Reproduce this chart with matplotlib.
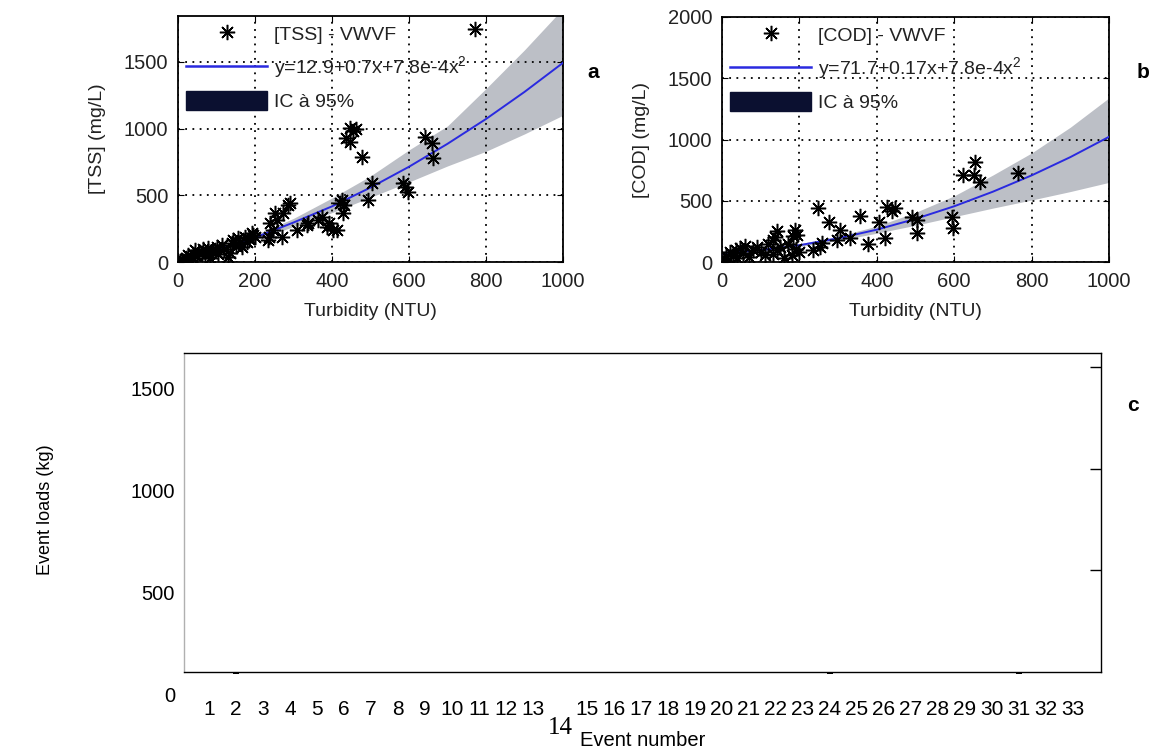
import numpy as np
import matplotlib
matplotlib.use('Agg')
import matplotlib.pyplot as plt
from matplotlib.lines import Line2D
from matplotlib.patches import Patch

plt.rcParams['font.family'] = ['Liberation Sans', 'DejaVu Sans']
plt.rcParams['mathtext.default'] = 'regular'

# ---- panel a : [TSS] vs turbidity
tss_turb = [5, 10, 15, 20, 26, 31, 35, 40, 44, 50, 55, 62, 65, 70, 78, 83, 90, 96, 100, 105,
            114, 120, 130, 135, 140, 143, 150, 156, 160, 166, 175, 179, 185, 192, 195, 200,
            234, 236, 239, 247, 252, 257, 270, 273, 286, 291, 309, 335, 338, 364, 374, 387,
            392, 403, 413, 421, 426, 429, 431, 436, 447, 455, 462, 448, 477, 494, 503, 585,
            590, 598, 642, 659, 662, 771]
tss_conc = [10, 15, 5, 30, 52, 15, 40, 60, 90, 45, 70, 68, 95, 50, 105, 30, 80, 90, 110, 60,
            128, 100, 38, 68, 142, 165, 120, 180, 150, 113, 190, 150, 170, 217, 200, 190,
            165, 187, 292, 240, 367, 315, 187, 367, 427, 442, 240, 278, 292, 315, 337, 263,
            292, 240, 240, 442, 465, 367, 427, 930, 1005, 985, 1000, 900, 790, 465, 590, 592,
            560, 527, 940, 890, 778, 1750]
turb_grid = [0, 100, 200, 300, 400, 500, 600, 700, 800, 900, 1000]
tss_fit = [13, 91, 183, 296, 417, 558, 714, 886, 1072, 1275, 1493]
tss_low = [3, 80, 165, 265, 370, 485, 600, 720, 830, 960, 1100]
tss_up = [23, 102, 201, 327, 480, 645, 840, 1020, 1300, 1590, 1900]

# ---- panel b : [COD] vs turbidity
cod_turb = [5, 10, 15, 20, 29, 35, 40, 47, 55, 60, 70, 80, 90, 100, 110, 120, 133, 133, 137,
            141, 142, 150, 160, 170, 180, 184, 189, 192, 194, 200, 236, 249, 253, 258, 277,
            296, 305, 331, 357, 376, 406, 421, 426, 440, 447, 490, 503, 503, 594, 598, 624,
            650, 654, 667, 766]
cod_conc = [20, 50, 10, 80, 57, 100, 30, 112, 70, 130, 40, 100, 125, 80, 60, 150, 64, 180, 207,
            250, 98, 120, 30, 150, 57, 216, 261, 110, 220, 80, 98, 438, 125, 152, 329,
            180, 261, 193, 377, 145, 329, 193, 451, 420, 438, 370, 343, 234, 370, 275, 710,
            710, 819, 656, 724]
cod_fit = [72, 97, 137, 193, 264, 352, 455, 574, 707, 856, 1022]
cod_low = [55, 85, 125, 175, 235, 300, 370, 440, 506, 575, 650]
cod_up = [89, 109, 149, 211, 293, 405, 540, 710, 890, 1100, 1340]

# ---- panel c : event loads
events = list(range(1, 34))
event_loads = [0, -10, 0, 0, 0, 0, 0, 0, 0, 0, 0, 0, 0, 0, 0, 0, 0, 0, 0, 0, 0, 0, 0,
               -10, 0, 0, 0, 0, 0, 0, -10, 0, 0]

W, H = 1151, 749
fig = plt.figure(figsize=(W / 100, H / 100), dpi=100)

blue = '#2a2ae0'
band = '#bcbfc6'
navy = '#0b1030'
txt = '#222222'
star = (8, 2, 0)


def scatter_panel(rect, turb, conc, fit, low, up, ymax, yticks, name, eq, ylab, lab_x):
    ax = fig.add_axes(rect)
    ax.fill_between(turb_grid, low, up, color=band, lw=0, zorder=1)
    ax.plot(turb_grid, fit, color=blue, lw=1.4, zorder=3)
    ax.plot(turb, conc, ls='none', marker=star, ms=11, mew=1.1, color='k', zorder=4)
    ax.set_xlim(0, 1000)
    ax.set_ylim(0, ymax)
    ax.set_xticks([0, 200, 400, 600, 800, 1000])
    ax.set_yticks(yticks)
    ax.grid(True, color='k', linestyle=(0, (1, 3)), linewidth=1.3)
    ax.tick_params(direction='in', top=True, right=True, length=4, labelsize=14.5,
                   labelcolor=txt, pad=7)
    for s in ax.spines.values():
        s.set_linewidth(1.3)
    handles = [Line2D([], [], ls='none', marker=star, ms=11, mew=1.1, color='k'),
               Line2D([], [], color=blue, lw=1.8),
               Patch(facecolor=navy, edgecolor=navy)]
    ax.legend(handles, [name, eq, 'IC à 95%'], loc='upper left', frameon=False,
              fontsize=14, labelcolor=txt, handlelength=4.2, handleheight=1.13,
              handletextpad=0.35, labelspacing=0.55, borderaxespad=0.2, borderpad=0.2)
    l, b, w, h = rect
    fig.text(l + w / 2, 1 - 312 / H, 'Turbidity (NTU)', ha='center', va='center',
             fontsize=14, color=txt)
    fig.text(lab_x / W, b + h / 2, ylab, ha='center', va='center', rotation=90,
             fontsize=14, color=txt)
    return ax


scatter_panel([178 / W, 1 - 262 / H, 385 / W, 246 / H], tss_turb, tss_conc, tss_fit,
              tss_low, tss_up, 1844, [0, 500, 1000, 1500], '[TSS] - VWVF',
              'y=12.9+0.7x+7.8e-4x$^2$', '[TSS] (mg/L)', 98)
scatter_panel([722 / W, 1 - 262 / H, 387 / W, 245 / H], cod_turb, cod_conc, cod_fit,
              cod_low, cod_up, 2000, [0, 500, 1000, 1500, 2000], '[COD] - VWVF',
              'y=71.7+0.17x+7.8e-4x$^2$', '[COD] (mg/L)', 642)

# ---- panel c
rect_c = [184 / W, 1 - 672 / H, 917 / W, 319 / H]
ax_c = fig.add_axes(rect_c)
ax_c.bar(events, event_loads, width=0.22, color='k', lw=0, clip_on=False)
ax_c.set_xlim(0.07, 34.04)
ax_c.set_ylim(0, 1568)
ax_c.yaxis.tick_right()
ax_c.set_yticks([500, 1000, 1500])
ax_c.tick_params(axis='y', direction='in', length=8, width=1, labelright=False,
                 right=True, left=False)
ax_c.set_xticks(events)
ax_c.set_xticklabels([str(e) if e != 14 else '' for e in events])
ax_c.tick_params(axis='x', length=0, pad=20, labelsize=15)
ax_c.spines['left'].set_color('#b0b0b0')
for s in ax_c.spines.values():
    s.set_linewidth(1)
ax_c.text(14, -0.1755, '14', transform=ax_c.get_xaxis_transform(), ha='center',
          va='center', fontfamily='Liberation Serif', fontsize=18)

# left labels of panel c sit 22 px lower than the right-hand ticks
ax_lab = fig.add_axes([rect_c[0], rect_c[1] - 22 / H, rect_c[2], rect_c[3]])
ax_lab.patch.set_visible(False)
for s in ax_lab.spines.values():
    s.set_visible(False)
ax_lab.set_ylim(0, 1568)
ax_lab.set_yticks([0, 500, 1000, 1500])
ax_lab.set_xticks([])
ax_lab.tick_params(axis='y', length=0, pad=6.5, labelsize=14.5)

fig.text(580 / W, 1 - 740 / H, 'Event number', ha='left', va='center', fontsize=14.5)
fig.text(45 / W, 1 - 510 / H, 'Event loads (kg)', ha='center', va='center',
         rotation=90, fontsize=13)

fig.text(593 / W, 1 - 73 / H, 'a', ha='center', va='center', fontsize=15, weight='bold')
fig.text(1143 / W, 1 - 73 / H, 'b', ha='center', va='center', fontsize=15, weight='bold')
fig.text(1133 / W, 1 - 405 / H, 'c', ha='center', va='center', fontsize=15, weight='bold')

fig.savefig('out.png', dpi=100)
